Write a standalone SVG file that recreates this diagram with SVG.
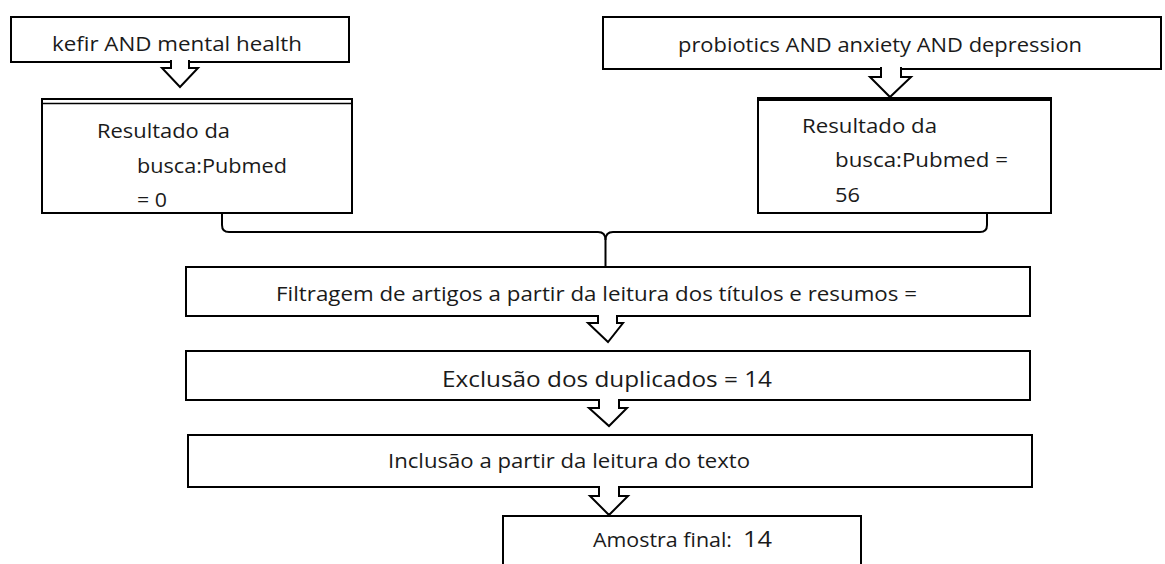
<svg xmlns="http://www.w3.org/2000/svg" width="1165" height="564" viewBox="0 0 1165 564">
<style>
.box{fill:#fff;stroke:#000;stroke-width:2}
.t{font-family:"Open Sans","Noto Sans","Liberation Sans",sans-serif;font-size:19.5px;fill:#1a1a1a}
.big{font-size:21.5px}
.arrow{fill:#fff;stroke:#000;stroke-width:2;stroke-linejoin:miter}
.link{fill:none;stroke:#000;stroke-width:2}
</style>
<rect width="1165" height="564" fill="#fff"/>
<g id="n1">
<rect class="box" x="11" y="17" width="338" height="45"/>
<text class="t" x="52" y="51" textLength="250" lengthAdjust="spacingAndGlyphs">kefir AND mental health</text>
</g>
<g id="n2">
<rect class="box" x="603" y="17" width="558" height="52"/>
<text class="t" x="678" y="52" textLength="404" lengthAdjust="spacingAndGlyphs">probiotics AND anxiety AND depression</text>
</g>
<g id="n3">
<rect class="box" x="42" y="99" width="310" height="114"/>
<line x1="42" y1="103.5" x2="352" y2="103.5" stroke="#000" stroke-width="1.5"/>
<text class="t" x="97" y="138" textLength="133" lengthAdjust="spacingAndGlyphs">Resultado  da</text>
<text class="t" x="137" y="173" textLength="150" lengthAdjust="spacingAndGlyphs">busca:Pubmed</text>
<text class="t" x="137" y="207" textLength="30" lengthAdjust="spacingAndGlyphs">= 0</text>
</g>
<g id="n4">
<rect class="box" x="758" y="99" width="293" height="114"/>
<line x1="757" y1="99" x2="1052" y2="99" stroke="#000" stroke-width="4"/>
<text class="t" x="802" y="133" textLength="135" lengthAdjust="spacingAndGlyphs">Resultado  da</text>
<text class="t" x="835" y="167" textLength="173" lengthAdjust="spacingAndGlyphs">busca:Pubmed =</text>
<text class="t" x="835" y="202" textLength="25" lengthAdjust="spacingAndGlyphs">56</text>
</g>
<g id="n5">
<rect class="box" x="186" y="267" width="844" height="49"/>
<text class="t" x="276" y="301" textLength="641" lengthAdjust="spacingAndGlyphs">Filtragem de artigos a partir da leitura dos títulos e resumos =</text>
</g>
<g id="n6">
<rect class="box" x="186" y="351" width="844" height="49"/>
<text class="t big" x="442" y="387" textLength="330" lengthAdjust="spacingAndGlyphs">Exclusão dos duplicados = 14</text>
</g>
<g id="n7">
<rect class="box" x="188" y="435" width="844" height="52"/>
<text class="t" x="388" y="468" textLength="362" lengthAdjust="spacingAndGlyphs">Inclusão a partir da leitura do texto</text>
</g>
<g id="n8">
<rect class="box" x="503" y="516" width="358" height="60"/>
<text class="t" x="593" y="547" textLength="139" lengthAdjust="spacingAndGlyphs">Amostra final:</text>
<text class="t big" x="743" y="547" textLength="29" lengthAdjust="spacingAndGlyphs">14</text>
</g>
<g id="connectors">
<path class="arrow" d="M171,60 V68 H162 L180,87 L198,68 H189 V60"/>
<path class="arrow" d="M881,67 V77 H870 L890,97 L911,77 H901 V67"/>
<path class="link" d="M222,213 V225 Q222,232 229,232 H598 Q605.5,232 605.5,240 V267"/>
<path class="link" d="M987,213 V225 Q987,232 980,232 H613 Q605.5,232 605.5,240"/>
<path class="arrow" d="M598,315 V323 H588 L608,342 L623,323 H617 V315"/>
<path class="arrow" d="M599,399 V408 H589 L609,426 L627,408 H619 V399"/>
<path class="arrow" d="M599,486 V496 H590 L609,515 L628,496 H619 V486"/>
</g>
</svg>
